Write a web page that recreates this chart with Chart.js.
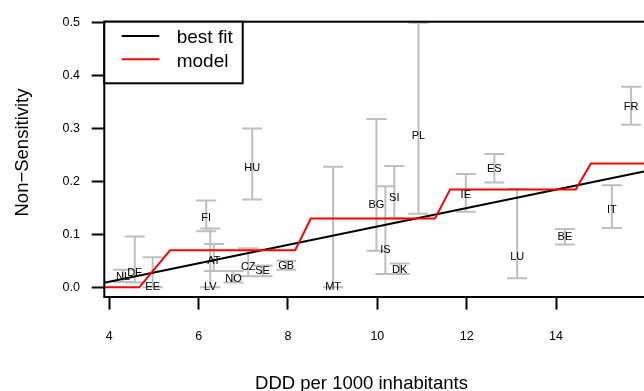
<!DOCTYPE html>
<html>
<head>
<meta charset="utf-8">
<script src="https://cdn.jsdelivr.net/npm/chart.js@4.4.1/dist/chart.umd.min.js"></script>
<style>
html, body { margin: 0; padding: 0; overflow: hidden; background: #fff; }
canvas { display: block; }
</style>
</head>
<body>
<canvas id="chart-1" width="700" height="391"></canvas>
<script>
// countries, DDD per 1000 inhabitants, point estimate and interval
const countries = ['NL', 'DE', 'EE', 'FI', 'LV', 'AT', 'NO', 'CZ', 'HU', 'SE', 'GB', 'MT',
    'BG', 'IS', 'SI', 'DK', 'PL', 'IE', 'ES', 'LU', 'BE', 'IT', 'FR'];
const ddd = [4.31, 4.57, 4.97, 6.17, 6.26, 6.34, 6.78, 7.11, 7.20, 7.43, 7.96, 9.01,
    9.98, 10.18, 10.38, 10.50, 10.92, 11.98, 12.62, 13.13, 14.20, 15.25, 15.68];
const est = [0.020, 0.028, 0.000, 0.131, 0.000, 0.050, 0.015, 0.039, 0.225, 0.030, 0.040, 0.000,
    0.156, 0.070, 0.168, 0.033, 0.286, 0.175, 0.223, 0.057, 0.095, 0.147, 0.341];
const lower = [0.010, 0.009, 0.000, 0.106, 0.000, 0.031, 0.009, 0.021, 0.166, 0.021, 0.033, 0.000,
    0.069, 0.025, 0.130, 0.025, 0.139, 0.143, 0.198, 0.017, 0.081, 0.112, 0.307];
const upper = [0.033, 0.096, 0.057, 0.164, 0.111, 0.082, 0.031, 0.074, 0.300, 0.041, 0.050, 0.228,
    0.318, 0.191, 0.229, 0.045, 0.500, 0.214, 0.252, 0.186, 0.110, 0.193, 0.379];

// best fit line end points
const fitX = [3.888, 15.97];
const fitY = [0.0087, 0.2188];

// model step curve
const modelX = [3.888, 4.67, 5.36, 8.16, 8.51, 11.29, 11.63, 14.44, 14.78, 16.5];
const modelY = [0, 0, 0.070, 0.070, 0.130, 0.130, 0.185, 0.185, 0.234, 0.234];

const xTitle = 'DDD per 1000 inhabitants';
const yTitle = 'Non\u2212Sensitivity';
const legendLabels = ['best fit', 'model'];

const FONT = '"Liberation Sans", Arial, Helvetica, sans-serif';

const bars = [];
countries.forEach((c, i) => {
    bars.push({x: ddd[i], y: lower[i]});
    bars.push({x: ddd[i], y: upper[i]});
    bars.push({x: ddd[i], y: null});
});

const extras = {
    id: 'extras',
    afterDatasetsDraw(chart) {
        const {ctx, chartArea: a, scales: {x, y}} = chart;
        ctx.save();
        // country labels
        ctx.font = '11px ' + FONT;
        ctx.fillStyle = '#000';
        ctx.textAlign = 'center';
        ctx.textBaseline = 'middle';
        countries.forEach((c, i) => {
            ctx.fillText(c, x.getPixelForValue(ddd[i]), y.getPixelForValue(est[i]));
        });
        // plot box
        ctx.strokeStyle = '#000';
        ctx.lineWidth = 2;
        ctx.strokeRect(a.left, a.top, a.width, a.height);
        // legend
        const lx = a.left, ly = a.top;
        ctx.fillStyle = '#fff';
        ctx.fillRect(lx, ly, 138.4, 61.6);
        ctx.strokeRect(lx, ly, 138.4, 61.6);
        const colors = ['#000', '#ff0000'];
        ctx.font = '19px ' + FONT;
        ctx.textAlign = 'left';
        ctx.textBaseline = 'alphabetic';
        legendLabels.forEach((t, i) => {
            const yy = ly + 14.3 + i * 23.3;
            ctx.strokeStyle = colors[i];
            ctx.beginPath();
            ctx.moveTo(lx + 17.4, yy);
            ctx.lineTo(lx + 55, yy);
            ctx.stroke();
            ctx.fillStyle = '#000';
            ctx.fillText(t, lx + 72.4, yy + 7.3);
        });
        // axis titles
        ctx.font = '18.5px ' + FONT;
        ctx.textAlign = 'center';
        ctx.fillText(xTitle, 361.5, 389.3);
        ctx.translate(27.5, 152.5);
        ctx.rotate(-Math.PI / 2);
        ctx.fillText(yTitle, 0, 0);
        ctx.restore();
    }
};

const ctx = document.getElementById('chart-1').getContext('2d');
const myChart = new Chart(ctx, {
    type: 'line',
    data: {
        datasets: [{
            label: 'model',
            data: modelX.map((v, i) => ({x: v, y: modelY[i]})),
            borderColor: '#ff0000',
            borderWidth: 2,
            pointRadius: 0,
            fill: false
        }, {
            label: 'best fit',
            data: fitX.map((v, i) => ({x: v, y: fitY[i]})),
            borderColor: '#000000',
            borderWidth: 2,
            pointRadius: 0,
            fill: false
        }, {
            label: 'range',
            data: bars,
            borderColor: '#bebebe',
            borderWidth: 2,
            pointStyle: 'line',
            pointRadius: 10,
            pointBorderWidth: 2,
            pointBorderColor: '#bebebe',
            spanGaps: false,
            fill: false
        }]
    },
    options: {
        responsive: false,
        animation: false,
        devicePixelRatio: 1,
        layout: {padding: {left: 0, top: 21.7, right: 32.3, bottom: 0}},
        plugins: {legend: {display: false}, tooltip: {enabled: false}},
        scales: {
            x: {
                type: 'linear',
                min: 3.888,
                max: 16.5,
                afterFit: (s) => { s.height = 94; },
                afterBuildTicks: (s) => { s.ticks = s.ticks.filter(t => t.value < 15); },
                grid: {drawOnChartArea: false, drawTicks: true, tickLength: 12.6, tickWidth: 2, tickColor: '#000'},
                border: {display: false},
                ticks: {stepSize: 2, includeBounds: false, autoSkip: false, maxRotation: 0, padding: 19,
                    color: '#000', font: {family: FONT, size: 12.5}}
            },
            y: {
                min: -0.0183,
                max: 0.5019,
                afterFit: (s) => { s.width = 104.3; },
                grid: {drawOnChartArea: false, drawTicks: true, tickLength: 12.6, tickWidth: 2, tickColor: '#000'},
                border: {display: false},
                ticks: {stepSize: 0.1, includeBounds: false, autoSkip: false, padding: 11.7,
                    color: '#000', font: {family: FONT, size: 12.5},
                    callback: (v) => v.toFixed(1)}
            }
        }
    },
    plugins: [extras]
});
</script>
</body>
</html>
